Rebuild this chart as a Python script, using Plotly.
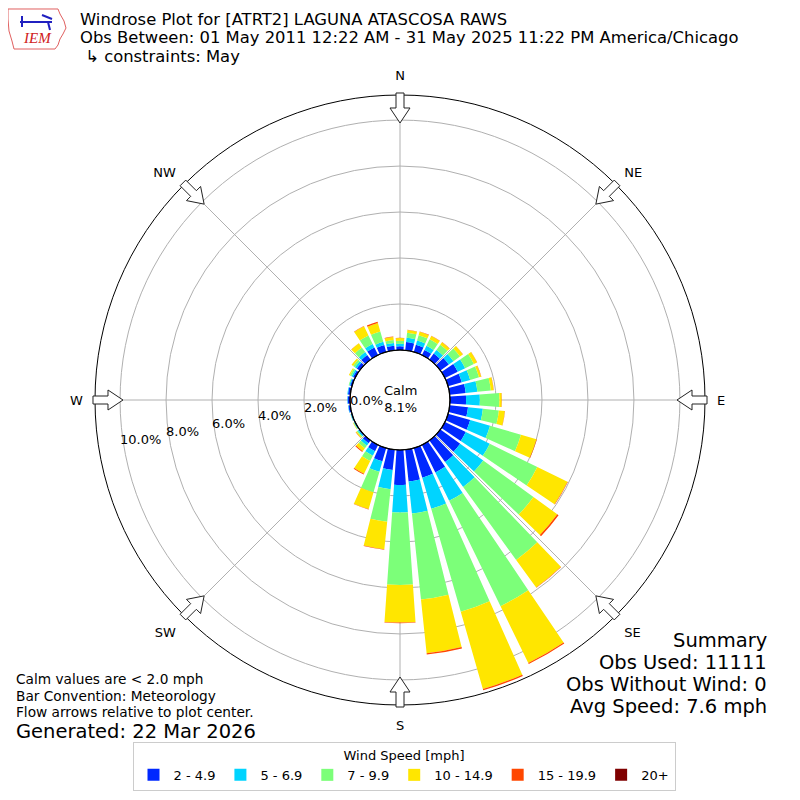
import math
import plotly.graph_objects as go

# wind directions (deg, meteorological "from"), 10 degree bins
directions = list(range(0, 360, 10))

speed_bins = ["2 - 4.9", "5 - 6.9", "7 - 9.9", "10 - 14.9", "15 - 19.9", "20+"]
bin_colors = ["#0028ff", "#00d4ff", "#7cff79", "#ffe600", "#ff4700", "#7f0000"]

pct_2_5 = [0.16, 0.36, 0.33, 0.25, 0.32, 0.45, 0.62, 0.62, 0.70, 0.70, 0.80, 1.00,
           1.01, 1.06, 1.16, 1.33, 1.34, 1.39, 1.52, 0.89, 0.60, 0.30, 0.15, 0.05,
           0.03, 0.04, 0.08, 0.10, 0.10, 0.08, 0.10, 0.15, 0.25, 0.37, 0.31, 0.20]
pct_5_7 = [0.11, 0.19, 0.19, 0.20, 0.20, 0.25, 0.36, 0.38, 0.51, 0.60, 0.65, 0.90,
           1.16, 1.24, 1.34, 1.37, 1.41, 1.40, 1.20, 0.84, 0.47, 0.22, 0.13, 0.05,
           0.03, 0.02, 0.02, 0.02, 0.03, 0.04, 0.07, 0.10, 0.15, 0.17, 0.15, 0.12]
pct_7_10 = [0.13, 0.22, 0.24, 0.31, 0.28, 0.35, 0.42, 0.40, 0.59, 0.85, 0.70, 1.40,
            2.30, 2.70, 3.92, 5.10, 4.66, 3.76, 3.15, 1.42, 0.93, 0.26, 0.14, 0.05,
            0.02, 0.01, 0.00, 0.00, 0.00, 0.03, 0.08, 0.10, 0.25, 0.41, 0.47, 0.13]
pct_10_15 = [0.12, 0.12, 0.15, 0.16, 0.13, 0.15, 0.15, 0.10, 0.12, 0.10, 0.26, 0.70,
             1.46, 1.28, 1.48, 2.75, 3.49, 2.35, 1.63, 1.20, 0.76, 0.61, 0.16, 0.05,
             0.02, 0.00, 0.00, 0.00, 0.00, 0.00, 0.05, 0.08, 0.22, 0.44, 0.38, 0.13]
pct_15_20 = [0.01, 0.01, 0.02, 0.01, 0.01, 0.01, 0.01, 0.01, 0.01, 0.01, 0.01, 0.02,
             0.02, 0.07, 0.02, 0.05, 0.06, 0.06, 0.03, 0.02, 0.02, 0.04, 0.04, 0.01,
             0.00, 0.00, 0.00, 0.00, 0.00, 0.00, 0.00, 0.00, 0.01, 0.02, 0.06, 0.02]
pct_20_up = [0.0, 0.0, 0.0, 0.0, 0.0, 0.0, 0.0, 0.0, 0.0, 0.0, 0.0, 0.0,
             0.0, 0.0, 0.0, 0.0, 0.0, 0.0, 0.0, 0.0, 0.0, 0.0, 0.0, 0.0,
             0.0, 0.0, 0.0, 0.0, 0.0, 0.0, 0.0, 0.0, 0.0, 0.0, 0.0, 0.0]

radial_ticks = [0, 2, 4, 6, 8, 10]
compass_angles = [0, 45, 90, 135, 180, 225, 270, 315]
compass_labels = ["N", "NE", "E", "SE", "S", "SW", "W", "NW"]
calm_pct = 8.1

FONT = "DejaVu Sans"
OFF = 8            # page body margin, figure starts at (8, 8)
FW = FH = 792
CX = CY = 400      # polar centre on the page
R = 305            # outer radius in px
HOLE_PX = 50
hole = HOLE_PX / R
rmax = 11.09


def to_paper(px, py):
    return (px - OFF) / FW, 1 - (py - OFF) / FH


dom_x = [(CX - R - OFF) / FW, (CX + R - OFF) / FW]
dom_y = [1 - (CY + R - OFF) / FH, 1 - (CY - R - OFF) / FH]

fig = go.Figure()
all_bins = [pct_2_5, pct_5_7, pct_7_10, pct_10_15, pct_15_20, pct_20_up]
for name, col, vals in zip(speed_bins, bin_colors, all_bins):
    fig.add_trace(go.Barpolar(r=vals, theta=directions, width=8, name=name,
                              marker=dict(color=col, line=dict(width=0))))

shapes = []
# inward pointing flow arrows at compass points
for ang in compass_angles:
    a = math.radians(ang)
    vx, vy = math.cos(a), math.sin(a)    # perpendicular to the radius
    pts = []
    for along, side in [(-2, -4), (13, -4), (13, -10), (28, 0), (13, 10), (13, 4), (-2, 4)]:
        rr = R - along
        bx = CX + rr * math.sin(a)
        by = CY - rr * math.cos(a)
        pts.append(to_paper(bx + side * vx, by + side * vy))
    path = "M " + " L ".join(f"{x:.5f},{y:.5f}" for x, y in pts) + " Z"
    shapes.append(dict(type="path", xref="paper", yref="paper", path=path,
                       fillcolor="white", line=dict(color="#222222", width=1)))

# black circle at the calm hole edge
x0, y0 = to_paper(CX - HOLE_PX, CY + HOLE_PX)
x1, y1 = to_paper(CX + HOLE_PX, CY - HOLE_PX)
shapes.append(dict(type="circle", xref="paper", yref="paper", x0=x0, y0=y0, x1=x1, y1=y1,
                   line=dict(color="black", width=1.2)))

# IEM logo outline (rough Iowa shape)
iowa = [(8, 9), (58, 9), (60, 14), (64, 21), (66, 28), (63, 34), (60, 39), (58, 45),
        (55, 49), (14, 49), (12, 41), (9, 31), (8, 19)]
path = "M " + " L ".join("%.5f,%.5f" % to_paper(x, y) for x, y in iowa) + " Z"
shapes.append(dict(type="path", xref="paper", yref="paper", path=path,
                   line=dict(color="#e06060", width=1)))
for (ax0, ay0, ax1, ay1) in [(20, 22, 52, 22), (22, 16, 22, 27), (42, 15, 52, 19), (48, 22, 50, 30)]:
    p0 = to_paper(ax0, ay0)
    p1 = to_paper(ax1, ay1)
    shapes.append(dict(type="line", xref="paper", yref="paper", x0=p0[0], y0=p0[1],
                       x1=p1[0], y1=p1[1], line=dict(color="#2020c0", width=2)))


def note(text, px, py, size, xanchor="left", color="black", family=FONT):
    x, y = to_paper(px, py)
    return dict(text=text, x=x, y=y, xref="paper", yref="paper", showarrow=False,
                xanchor=xanchor, yanchor="middle", font=dict(family=family, size=size, color=color))


annotations = [
    note("Windrose Plot for [ATRT2] LAGUNA ATASCOSA RAWS", 78, 19.5, 16.4),
    note("Obs Between: 01 May 2011 12:22 AM - 31 May 2025 11:22 PM America/Chicago", 78, 37.5, 16.4),
    note(" ↳ constraints: May", 78, 56.5, 16.4),
    note("<i>IEM</i>", 37, 38, 15, xanchor="center", color="#d02020", family="Liberation Serif"),
    note("Calm<br>%.1f%%" % calm_pct, 400, 399, 13, xanchor="center"),
    note("Calm values are < 2.0 mph", 14, 679, 13.7),
    note("Bar Convention: Meteorology", 14, 695.5, 13.7),
    note("Flow arrows relative to plot center.", 14, 712, 13.7),
    note("Generated: 22 Mar 2026", 14, 731, 19.5),
    note("Summary", 769, 640, 19.5, xanchor="right"),
    note("Obs Used: 11111", 769, 662, 19.5, xanchor="right"),
    note("Obs Without Wind: 0", 769, 684, 19.5, xanchor="right"),
    note("Avg Speed: 7.6 mph", 769, 706, 19.5, xanchor="right"),
]

# radial tick labels, placed from the radial scale just inside each grid circle
px_per_pct = (R - HOLE_PX) / rmax
lab_ang = math.radians(10)
for v in radial_ticks:
    rp = HOLE_PX + v * px_per_pct
    annotations.append(note("%.1f%%" % v, CX - rp - 2, CY + (rp - HOLE_PX) * math.sin(lab_ang), 13))

fig.update_layout(
    width=FW, height=FH,
    margin=dict(l=0, r=0, t=0, b=0),
    paper_bgcolor="white",
    font=dict(family=FONT, size=13, color="black"),
    shapes=shapes,
    annotations=annotations,
    polar=dict(
        domain=dict(x=dom_x, y=dom_y),
        hole=hole,
        bgcolor="white",
        bargap=0,
        radialaxis=dict(range=[0, rmax], tickvals=radial_ticks, showticklabels=False,
                        showline=False, ticks="", gridcolor="#b0b0b0", gridwidth=1),
        angularaxis=dict(rotation=90, direction="clockwise",
                         tickvals=compass_angles, ticktext=compass_labels,
                         showline=True, linecolor="black", linewidth=1,
                         ticks="outside", ticklen=9, tickcolor="rgba(0,0,0,0)",
                         gridcolor="#b0b0b0", gridwidth=1, tickfont=dict(size=13)),
    ),
    legend=dict(orientation="h", x=0.5, xanchor="center", y=1 - (742 - OFF) / FH, yanchor="top",
                title=dict(text="Wind Speed [mph]", side="top center", font=dict(size=13)),
                bordercolor="#cccccc", borderwidth=1, font=dict(size=13),
                traceorder="normal"),
)

fig.write_html("out.html")
